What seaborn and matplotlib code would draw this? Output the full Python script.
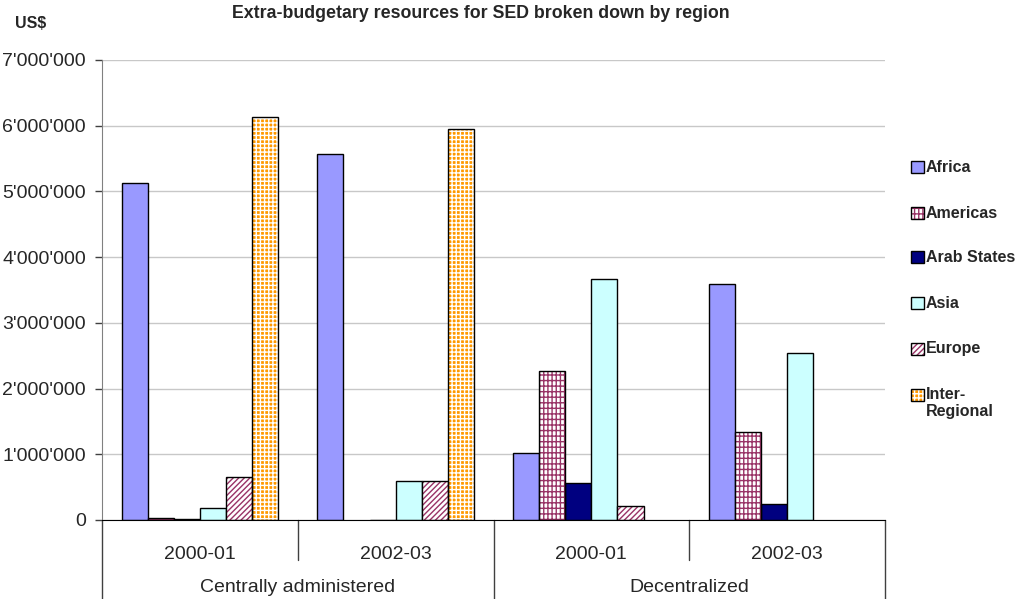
import matplotlib
matplotlib.use("Agg")
import matplotlib.pyplot as plt
from matplotlib.patches import Rectangle
from matplotlib.ticker import FuncFormatter, MultipleLocator
import pandas as pd
import seaborn as sns

# Funding by period (two management modes, two biennia each), in US$
periods = ["2000-01", "2002-03", "2000-01", "2002-03"]
modes = ["Centrally administered", "Decentralized"]
regions = ["Africa", "Americas", "Arab States", "Asia", "Europe", "Inter-Regional"]
legend_labels = ["Africa", "Americas", "Arab States", "Asia", "Europe", "Inter-\nRegional"]

africa = [5130000, 5570000, 1015000, 3590000]
americas = [26000, 0, 2260000, 1340000]
arab_states = [12000, 0, 565000, 250000]
asia = [178000, 590000, 3660000, 2540000]
europe = [650000, 590000, 210000, 0]
inter_regional = [6130000, 5950000, 0, 0]

series = [africa, americas, arab_states, asia, europe, inter_regional]
slots = [f"{m} {p}" for m, p in zip([modes[0], modes[0], modes[1], modes[1]], periods)]

df = pd.DataFrame(
    [(slot, reg, vals[i]) for reg, vals in zip(regions, series) for i, slot in enumerate(slots)],
    columns=["slot", "region", "value"],
)

# Fill / hatch styling per region
face = {"Africa": "#9999FF", "Americas": "white", "Arab States": "#000080",
        "Asia": "#CCFFFF", "Europe": "white", "Inter-Regional": "#FF9900"}
hatch = {"Americas": ("||||---", "#993366"), "Europe": ("//////", "#993366"),
         "Inter-Regional": ("++++", "white")}

sns.set_style("white")
plt.rcParams["font.family"] = ["Liberation Sans", "DejaVu Sans"]
plt.rcParams["hatch.linewidth"] = 1.0

fig = plt.figure(figsize=(10.15, 5.99), dpi=100)
ax = fig.add_axes([102 / 1015, 79 / 599, 783 / 1015, 460 / 599])

sns.barplot(data=df, x="slot", y="value", hue="region", order=slots, hue_order=regions,
            palette=face, saturation=1, edgecolor="black", linewidth=1, width=0.8,
            legend=False, errorbar=None, ax=ax)

def style_patch(p, reg):
    if reg in hatch:
        pat, col = hatch[reg]
        p.set_hatch(pat)
        p.set_edgecolor(col)
        p.set_linewidth(0)


for reg, cont in zip(regions, ax.containers):
    for p in cont.patches:
        style_patch(p, reg)
        if reg in hatch and p.get_height() > 0:
            ax.add_patch(Rectangle((p.get_x(), p.get_y()), p.get_width(), p.get_height(),
                                   fill=False, edgecolor="black", linewidth=1,
                                   zorder=p.get_zorder() + 0.1))

# Axes, grid and ticks
ax.set_xlim(-0.5, 3.5)
ax.set_ylim(0, 7000000)
ax.yaxis.set_major_locator(MultipleLocator(1000000))
ax.yaxis.set_major_formatter(FuncFormatter(lambda v, _: f"{v:,.0f}".replace(",", "'")))
ax.yaxis.grid(True, color="#c8c8c8", linewidth=1)
ax.set_axisbelow(True)
ax.set_xlabel("")
ax.set_ylabel("")
for s in ("top", "right"):
    ax.spines[s].set_visible(False)
ax.spines["left"].set_color("#808080")
ax.spines["bottom"].set_color("black")
ax.tick_params(axis="y", direction="out", length=5, width=1, color="#404040",
               pad=6.5, labelsize=14, left=True)
ax.set_xticks(range(4), labels=periods)
ax.tick_params(axis="x", length=0, pad=19, labelsize=14)

# Two-level category axis: separators and group names
xt = ax.get_xaxis_transform()
for x in (0.5, 2.5):
    ax.plot([x, x], [0, -40 / 460], transform=xt, clip_on=False, color="#404040", lw=1)
for x in (-0.5, 1.5, 3.5):
    ax.plot([x, x], [0, -80 / 460], transform=xt, clip_on=False, color="#404040", lw=1)
for x, m in zip((0.5, 2.5), modes):
    ax.text(x, -67 / 460, m, transform=xt, ha="center", va="center", fontsize=14)

# Titles
fig.text(481 / 1015, 1 - 13 / 599, "Extra-budgetary resources for SED broken down by region",
         ha="center", va="center", fontsize=12.8, fontweight="bold")
fig.text(31 / 1015, 1 - 23 / 599, "US$", ha="center", va="center", fontsize=11.5,
         fontweight="bold")

# Legend
rows = [167, 213, 257, 303, 349, 395]
for reg, lab, yc in zip(regions, legend_labels, rows):
    r = Rectangle((911 / 1015, 1 - (yc + 6.3) / 599), 12.6 / 1015, 12.6 / 599,
                  transform=fig.transFigure, facecolor=face[reg], edgecolor="black",
                  linewidth=1)
    if reg in hatch:
        r2 = Rectangle(r.get_xy(), r.get_width(), r.get_height(), transform=fig.transFigure,
                       facecolor=face[reg], linewidth=0)
        style_patch(r2, reg)
        r.set_facecolor("none")
        fig.add_artist(r2)
    fig.add_artist(r)
    if "\n" in lab:
        fig.text(926 / 1015, 1 - (yc - 8) / 599, lab, ha="left", va="top", fontsize=11.5,
                 fontweight="bold", linespacing=1.15)
    else:
        fig.text(926 / 1015, 1 - yc / 599, lab, ha="left", va="center", fontsize=11.5,
                 fontweight="bold")

fig.savefig("out.png", dpi=100)
